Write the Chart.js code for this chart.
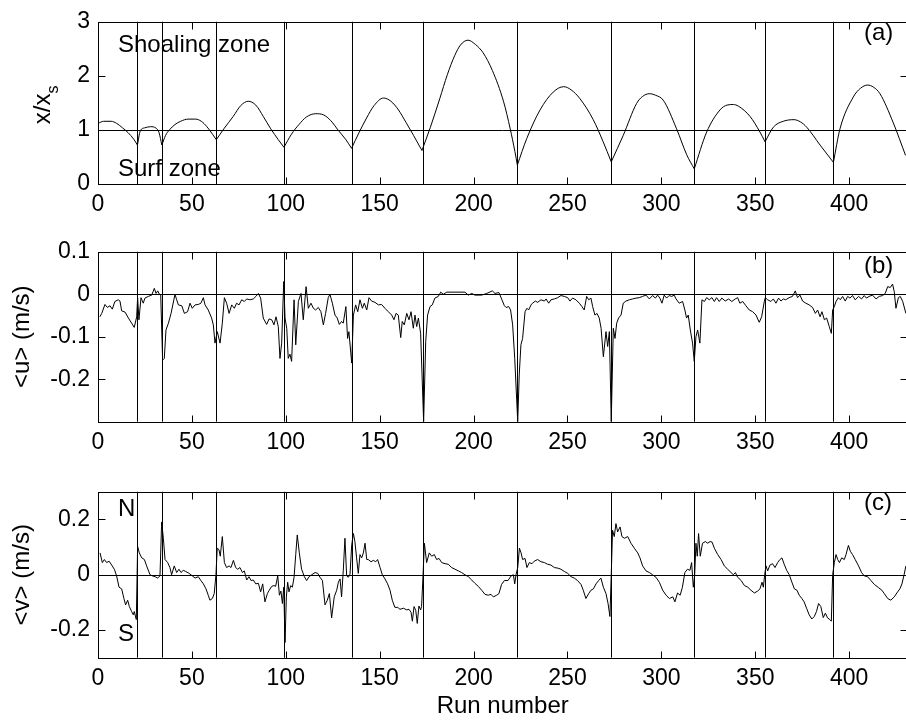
<!DOCTYPE html>
<html>
<head>
<meta charset="utf-8">
<script src="https://cdn.jsdelivr.net/npm/chart.js@4.4.0/dist/chart.umd.min.js"></script>
<style>
  html, body { margin: 0; padding: 0; background: #fff; overflow: hidden; }
  #wrap { position: relative; width: 906px; height: 726px; overflow: hidden; }
  canvas { position: absolute; left: 0; }
</style>
</head>
<body>
<div id="wrap">
  <canvas id="panelA" width="920" height="230" style="top:0px"></canvas>
  <canvas id="panelB" width="920" height="240" style="top:230px"></canvas>
  <canvas id="panelC" width="920" height="256" style="top:470px"></canvas>
</div>
<script>
// Tick labels
const runTicks = [0, 50, 100, 150, 200, 250, 300, 350, 400];
const xsTicks = [0, 1, 2, 3];
const uTicks = [-0.2, -0.1, 0, 0.1];
const vTicks = [-0.2, 0, 0.2];

// Run numbers where the tide segments change
const boundaries = [21, 34, 63, 99, 135.5, 173, 223.3, 273.3, 317.5, 355.2, 391.6];

// (a) normalised position x/x_s
const xsRuns = [0, 3, 7, 10, 13, 16, 19, 21,
  22.5, 25, 28, 31, 32.5, 34,
  36, 38, 41, 44, 48, 52, 55, 58, 61, 63,
  67, 72, 76, 80, 84, 88, 92, 96, 99,
  103, 107, 111, 116, 120, 124, 128, 132, 135,
  139, 143, 147, 152, 156, 160, 164, 168, 172.5,
  177, 182, 186, 190, 193, 197, 201, 205, 210, 216, 219.5, 222, 223.3,
  228.3, 235.4, 242.4, 248, 252, 256.6, 263.7, 269, 273.3,
  279.7, 286.8, 290, 293.6, 297, 301, 308.1, 313.5, 317.5,
  324.1, 331.2, 335, 338.3, 341, 347.2, 352.5, 355.2,
  359.6, 364.9, 370.6, 374, 377.4, 384.5, 391.6,
  395.1, 402.2, 406, 409.8, 413, 416.4, 423.5, 430];
const xsVals = [1.12, 1.16, 1.16, 1.12, 1.04, 0.95, 0.83, 0.72,
  0.98, 1.04, 1.06, 1.03, 0.95, 0.72,
  0.9, 1.0, 1.1, 1.16, 1.2, 1.2, 1.16, 1.06, 0.92, 0.82,
  1.02, 1.25, 1.45, 1.53, 1.46, 1.25, 1.02, 0.82, 0.68,
  0.92, 1.1, 1.24, 1.3, 1.28, 1.17, 0.99, 0.82, 0.66,
  0.95, 1.22, 1.45, 1.59, 1.53, 1.37, 1.14, 0.9, 0.62,
  1.05, 1.58, 2.02, 2.38, 2.57, 2.66, 2.58, 2.43, 2.1, 1.52, 1.02, 0.6, 0.35,
  0.84, 1.37, 1.7, 1.8, 1.74, 1.58, 1.19, 0.78, 0.41,
  0.9, 1.49, 1.62, 1.67, 1.64, 1.55, 1.02, 0.54, 0.28,
  0.96, 1.37, 1.46, 1.47, 1.44, 1.25, 0.96, 0.78,
  1.05, 1.16, 1.19, 1.15, 1.05, 0.72, 0.4,
  1.02, 1.61, 1.77, 1.83, 1.79, 1.67, 1.13, 0.53];

// (b) mean cross-shore current <u> (m/s)
const uRuns = [1, 2, 3.7, 5, 6.4, 7.6, 9, 10.8, 11.7, 12.6, 14.4, 16.2, 17.9, 19.3, 20.6,
  21.1, 21.8, 22.9, 24.1, 25, 26.8, 28.6, 30, 30.9, 31.8, 32.7, 33.4,
  34.4, 35.3, 36.2, 37.5, 38.9, 41, 41.9, 42.8, 44.6, 46, 47.7, 49, 50.2, 51.7, 53.4, 54.8,
  56.1, 57, 58.7, 60.5, 61.4, 62.3, 63.5, 65, 66.2, 67.3, 68.5, 69.8, 71.2, 72.6, 73.8,
  75.1, 76.5, 77.9, 79.2, 80.9, 82.7, 84.1, 85.4, 86.6, 88, 89.8, 91.1, 92.5, 93.7, 94.8,
  96, 96.9, 97.8, 98.9, 99.6, 100.5, 101.3, 102.2, 103.1, 104.4, 105.3, 106.7, 108.1,
  109.3, 110.8, 112, 113.4, 114.7, 115.9, 117.3, 118.7, 120, 121.2, 122.6, 123.5, 124.8,
  126.2, 127.4, 128.5, 129.7, 130.6, 132, 132.9, 133.6, 135.1, 136, 137.2, 138.3, 139.5,
  140.8, 141.8, 143.1, 144.3, 145.7, 147.5, 149.3, 151, 152.8, 154.6, 156.4, 157.6, 158.7,
  159.9, 161.2, 162, 163.1, 164.4, 165.6, 166.7, 167.9, 168.8, 169.7, 170.6, 171.8,
  173.4, 174.5, 175.5, 176.8, 178, 179.4, 181.2, 182.5, 183.9, 185.7, 190.1, 195.4,
  197.2, 199, 200.7, 204.3, 207, 210, 211.4, 213.5, 215.1, 216.4, 217.3, 218.7, 219.7,
  220.8, 221.9, 223.5, 224.3, 225.2, 226.1, 227.4, 228.4, 229.3, 230.6, 231.4, 232.9,
  234.1, 235.9, 237.7, 238.6, 240, 241.2, 243, 244.8, 246.5, 248.3, 250.1, 251.3, 252.7,
  254.5, 256.3, 257.7, 258.9, 260.2, 261.3, 262.5, 263.4, 264.6, 265.7, 266.9, 267.9,
  269.1, 270.5, 271.4, 272.3, 273.3, 274.4, 275.3, 276.2, 277.2, 278.5, 279.7, 281.1,
  282.9, 284.7, 286.5, 288.2, 290, 291.8, 293.6, 295.3, 296.8, 298, 299.2, 300.3, 301.5,
  302.8, 304.1, 305.5, 306.8, 307.8, 309.5, 311.3, 312.5, 313.4, 314.3, 315.4, 316.6,
  317.5, 318.4, 319.3, 320.5, 321.6, 322.9, 324.1, 325.5, 326.9, 328.2, 329.4, 330.8,
  332.2, 334, 335.8, 337.5, 339.3, 340.6, 341.8, 343.3, 345, 346.8, 348.6, 350.4, 352.1,
  353.4, 354.8, 355.3, 356.6, 358.3, 359.6, 361, 362.4, 363.7, 364.9, 366.2, 368, 369.8,
  371.3, 372.5, 373.8, 375.2, 376.9, 378.7, 380.5, 382, 383.2, 384.5, 385.5, 386.8, 388,
  389.4, 390.5, 391.2, 392.1, 393, 394.2, 395.3, 396.5, 397.9, 399.2, 400.4, 401.8,
  403.2, 405, 406.6, 408, 409.2, 410.6, 412.4, 414.3, 416, 417.8, 419.2, 420.5, 421.9,
  423.1, 424, 424.9, 426.2, 427.2, 428.5, 430.2];
const uVals = [-0.053, -0.045, -0.024, -0.031, -0.027, -0.035, -0.017, -0.013, -0.016, -0.039, -0.042, -0.056, -0.068, -0.078, -0.053,
  -0.008, -0.06, -0.008, -0.021, -0.009, -0.005, -0.002, 0.014, 0.002, 0.008, 0, -0.002,
  -0.155, -0.151, -0.084, -0.068, -0.045, 0, -0.013, -0.025, -0.027, -0.045, -0.041, -0.021, -0.033, -0.025, -0.024, -0.021,
  -0.008, -0.025, -0.037, -0.056, -0.072, -0.115, -0.088, -0.115, -0.068, -0.008, -0.021, -0.045, -0.025, -0.033, -0.021,
  -0.025, -0.013, -0.017, -0.011, -0.013, -0.011, -0.005, 0.002, -0.009, -0.056, -0.071, -0.058, -0.06, -0.072, -0.053,
  -0.076, -0.151, -0.115, 0.03, -0.056, -0.08, -0.151, -0.141, -0.158, -0.013, -0.119, -0.017, 0.002,
  -0.06, 0.018, -0.033, -0.021, -0.033, -0.037, -0.031, -0.041, -0.072, -0.045, -0.008, 0, -0.021,
  -0.049, -0.056, -0.071, -0.064, -0.068, -0.029, -0.104, -0.088, -0.162, -0.049, -0.025, -0.041, -0.013,
  -0.033, -0.021, -0.037, -0.008, -0.016, -0.019, -0.025, -0.024, -0.033, -0.041, -0.049, -0.06, -0.045,
  -0.049, -0.102, -0.064, -0.072, -0.045, -0.06, -0.041, -0.08, -0.049, -0.076, -0.056, -0.092,
  -0.3, -0.111, -0.049, -0.029, -0.025, -0.009, -0.005, 0.005, 0, 0.005, 0.005, 0.005,
  -0.002, 0.002, -0.002, -0.002, 0.002, 0.008, 0.002, 0.004, -0.013, -0.027, -0.031, -0.029, -0.037,
  -0.072, -0.151, -0.3, -0.19, -0.119, -0.104, -0.041, -0.033, -0.037, -0.025, -0.021, -0.016,
  -0.019, -0.013, -0.016, -0.011, -0.021, -0.013, -0.011, -0.008, -0.003, -0.005, -0.008, -0.016, -0.009,
  -0.013, -0.021, -0.029, -0.037, -0.005, -0.013, -0.009, -0.029, -0.049, -0.045, -0.056, -0.08,
  -0.147, -0.088, -0.123, -0.088, -0.3, -0.08, -0.104, -0.068, -0.056, -0.049, -0.021, -0.016,
  -0.013, -0.011, -0.009, -0.008, -0.005, -0.002, -0.011, -0.003, -0.009, -0.002, -0.009, -0.021, -0.002,
  -0.009, -0.003, -0.005, -0.002, -0.011, -0.021, -0.017, -0.037, -0.056, -0.049, -0.084, -0.115,
  -0.158, -0.1, -0.084, -0.115, -0.013, -0.017, -0.008, -0.013, -0.008, -0.017, -0.008, -0.017,
  -0.009, -0.016, -0.011, -0.017, -0.011, -0.008, -0.021, -0.017, -0.027, -0.037, -0.041, -0.049, -0.066,
  -0.053, -0.017, -0.008, -0.013, -0.017, -0.011, -0.021, -0.009, -0.016, -0.011, -0.013, -0.008, -0.005,
  0.008, -0.008, -0.002, -0.016, -0.021, -0.025, -0.031, -0.045, -0.037, -0.053, -0.041, -0.06, -0.056,
  -0.076, -0.092, -0.037, -0.029, -0.017, -0.008, -0.013, -0.005, -0.016, -0.005, -0.009, -0.003,
  -0.013, -0.005, -0.011, -0.003, -0.009, -0.005, -0.002, -0.011, -0.005, -0.003, 0.002, 0.018, 0.016,
  0.024, 0.006, -0.033, -0.008, -0.005, -0.017, -0.045];

// (c) mean alongshore current <v> (m/s)
const vRuns = [1.1, 2.3, 3.4, 4.6, 5.9, 7.3, 8.7, 9.9, 11.2, 12.6, 13.8, 14.7, 15.8, 16.7, 17.9, 18.8,
  19.3, 20.4, 21.1, 22, 23.3, 24.7, 25.9, 27.7, 28.9, 30.4, 31.8, 33, 33.9, 34.8, 35.7,
  37.1, 38.3, 39.2, 40.6, 41.9, 43.1, 44.2, 45.4, 46.7, 48.5, 50.2, 51.7, 53.4, 54.8,
  56.1, 57.5, 58.7, 59.6, 60.9, 61.9, 62.8, 63.5, 64.4, 65.1, 66.2, 67.3, 68.5, 69.8,
  70.8, 72.1, 73.3, 74.4, 75.6, 76.9, 77.9, 79.2, 80.4, 81.5, 82.7, 84, 85.4, 86.6, 87.7,
  88.9, 90.2, 91.2, 92.5, 93.7, 94.6, 95.7, 96.6, 97.4, 98.2, 98.9, 99.6, 100.3, 101,
  101.7, 102.6, 103.5, 104.4, 105.3, 106.1, 107.2, 108.4, 109.9, 111.1, 112.4, 113.8,
  115.6, 117, 118.2, 119.5, 120.9, 122.1, 123.2, 124.4, 125.8, 127.1, 128, 128.9, 129.7,
  130.6, 131.5, 132.4, 133.3, 134.2, 135.1, 136, 136.8, 137.7, 138.6, 139.5, 140.4, 141.3,
  142.2, 143.1, 143.9, 145.4, 146.6, 147.9, 148.9, 150.2, 151.4, 152.8, 154.2, 155.5,
  156.7, 158.1, 159.6, 160.8, 162.6, 164.4, 165.6, 166.7, 167.4, 168.3, 169.2, 170, 170.9,
  171.8, 172.3, 173.1, 173.8, 175, 176.4, 177.7, 179.1, 180.3, 181.6, 183, 184.8, 186.5,
  188.3, 190.1, 191.9, 193.6, 195.4, 197.2, 199, 200.7, 202.5, 204.3, 206.1, 207.8, 209.3,
  210.5, 212.3, 213.5, 214.9, 216.4, 218.3, 220, 221.2, 221.9, 222.6, 223.5, 224.4, 225.3,
  226.1, 227.4, 228.4, 229.7, 231.1, 232.3, 234.1, 235.9, 237.7, 239.4, 241.2, 243, 244.8,
  246.5, 248.3, 250.1, 251.9, 253.6, 255.4, 257.2, 258.4, 259.8, 261.3, 262.5, 263.8, 265.2,
  266.6, 267.8, 269.1, 270.5, 271.6, 272.6, 273.3, 274, 274.9, 275.8, 276.7, 278, 279,
  280.3, 282.1, 283.8, 285.6, 287.4, 288.6, 290, 291.8, 293.6, 295.3, 297.1, 298.9, 300.7,
  302.5, 304.3, 306.1, 307.2, 308.6, 310, 311.2, 312.5, 313.9, 315.2, 316.1, 317, 317.7,
  318.4, 319.1, 319.8, 320.7, 321.9, 323.4, 324.7, 325.9, 327, 328.2, 330, 331.8, 333.5,
  335.3, 337.1, 338.3, 339.4, 340.6, 342.5, 344.2, 346, 347.7, 349.5, 351.3, 352.5, 353.6,
  354.3, 355, 355.7, 356.6, 357.8, 359.2, 360.5, 361.9, 363.1, 364.2, 365.4, 366.7, 368.1,
  369.5, 370.8, 372.2, 373.4, 374.8, 376, 377.3, 378.7, 380.1, 381.4, 382.6, 383.7, 384.9,
  386.2, 387.3, 388.5, 389.7, 390.5, 391.2, 392.1, 393, 393.9, 394.8, 396, 397.4, 398.3,
  399.6, 400.6, 401.8, 403.2, 405, 406.6, 408, 409.8, 411.6, 413.4, 415.7, 417.4, 418.7,
  420.5, 422.2, 424, 425.8, 427, 428.1, 429.3, 430.2];
const vVals = [0.079, 0.044, 0.055, 0.044, 0.049, 0.035, 0.02, -0.004, -0.045, -0.051, -0.086, -0.109, -0.092, -0.115, -0.133, -0.145,
  -0.133, -0.162, 0.102, 0.079, 0.061, 0.055, 0.032, 0, -0.004, -0.007, -0.012, -0.004, 0.191, 0.132, 0.055,
  0.044, 0.026, 0, 0.032, 0.008, 0.02, 0.008, 0.016, 0.012, 0.005, -0.004, -0.012, -0.007, -0.021,
  -0.033, -0.051, -0.074, -0.092, -0.086, -0.068, 0, 0.096, 0.091, 0.067, 0.138, 0.044, 0.026, 0.032,
  0.026, 0.052, 0.026, 0.02, 0.026, 0.008, 0.014, -0.019, -0.007, -0.021, -0.019, -0.033, -0.031, -0.062, -0.033,
  -0.098, -0.068, -0.056, -0.042, -0.039, -0.042, -0.004, -0.074, -0.059, -0.104, -0.045, -0.245, -0.08, -0.027,
  -0.062, -0.039, -0.045, -0.009, 0.073, 0.144, 0.079, 0.02, -0.007, -0.021, -0.007, 0,
  0.008, 0.005, -0.009, -0.021, -0.109, -0.092, -0.068, -0.156, -0.08, -0.056, -0.027, -0.015, -0.08,
  0.014, 0.132, -0.004, -0.009, 0.002, 0.108, 0.149, 0.12, 0.061, 0.005, 0.073, 0.061, 0.079,
  0.114, 0.055, 0.055, 0.047, 0.052, 0.047, 0.055, 0.026, 0, -0.015, -0.033, -0.056,
  -0.092, -0.118, -0.118, -0.125, -0.121, -0.127, -0.125, -0.136, -0.168, -0.115, -0.129, -0.176, -0.113,
  -0.127, -0.115, 0, 0.114, 0.044, 0.079, 0.067, 0.073, 0.055, 0.059, 0.044, 0.04, 0.038,
  0.026, 0.02, 0.014, 0.008, 0, -0.007, -0.019, -0.031, -0.042, -0.056, -0.071, -0.074, -0.071,
  -0.08, -0.074, -0.068, -0.035, -0.021, -0.021, -0.004, 0, -0.033, 0, 0.026, 0.096, 0.079,
  0.055, 0.059, 0.026, 0.044, 0.04, 0.049, 0.055, 0.047, 0.044, 0.038, 0.035, 0.026, 0.024,
  0.02, 0.012, 0.005, -0.007, -0.012, -0.021, -0.035, -0.056, -0.086, -0.068, -0.056, -0.051, -0.033,
  -0.021, -0.012, -0.045, -0.068, -0.104, -0.151, 0, 0.161, 0.138, 0.185, 0.155, 0.173, 0.138,
  0.132, 0.138, 0.114, 0.096, 0.079, 0.061, 0.032, 0.014, 0.008, 0, -0.009, -0.027, -0.056,
  -0.074, -0.086, -0.08, -0.098, -0.066, -0.074, -0.045, 0.008, 0.02, 0.016, 0.044, -0.045, -0.004,
  0.114, 0.067, 0.149, 0.067, 0.114, 0.12, 0.114, 0.12, 0.118, 0.096, 0.073, 0.055, 0.032,
  0.02, 0.008, 0, 0.008, -0.009, -0.021, -0.039, -0.045, -0.056, -0.066, -0.059, -0.051, -0.027,
  -0.045, 0, 0.032, 0.014, 0.035, 0.04, 0.026, 0.044, 0.055, 0.061, 0.038, 0.016, 0,
  -0.027, -0.051, -0.056, -0.074, -0.086, -0.098, -0.121, -0.145, -0.16, -0.151, -0.133, -0.104, -0.115,
  -0.155, -0.139, -0.156, -0.162, -0.168, 0, 0.044, 0.073, 0.055, 0.044, 0.061, 0.055, 0.073,
  0.106, 0.085, 0.073, 0.055, 0.032, 0.008, -0.004, -0.007, -0.021, -0.035, -0.047, -0.056, -0.068,
  -0.086, -0.092, -0.08, -0.062, -0.051, -0.033, 0.002, 0.032];

const FONT = "'Liberation Sans', Arial, Helvetica, sans-serif";
Chart.defaults.font.family = FONT;
Chart.defaults.color = '#000';

function toPoints(runs, vals) {
  return runs.map((r, i) => ({ x: r, y: vals[i] }));
}

// split the x/x_s curve at its cusps (local minima) so each arch is smooth
function splitArches(runs, vals) {
  const arches = [];
  let cur = [];
  runs.forEach((r, i) => {
    cur.push({ x: r, y: vals[i] });
    const isMin = i > 0 && i < runs.length - 1 && vals[i] < vals[i - 1] && vals[i] < vals[i + 1];
    if (isMin) {
      arches.push(cur);
      cur = [{ x: r, y: vals[i] }];
    }
  });
  arches.push(cur);
  return arches;
}

// frame, inward ticks, reference lines and free text
const marksPlugin = {
  id: 'marks',
  beforeDatasetsDraw(chart, args, opts) {
    const { ctx, chartArea: a, scales: { x, y } } = chart;
    ctx.save();
    ctx.strokeStyle = '#000';
    ctx.lineWidth = 1;
    ctx.beginPath();
    boundaries.forEach(b => {
      const px = Math.round(x.getPixelForValue(b)) + 0.5;
      ctx.moveTo(px, a.top);
      ctx.lineTo(px, a.bottom);
    });
    const py = Math.round(y.getPixelForValue(opts.refLine)) + 0.5;
    ctx.moveTo(a.left, py);
    ctx.lineTo(a.right, py);
    ctx.stroke();
    ctx.restore();
  },
  afterDraw(chart, args, opts) {
    const { ctx, chartArea: a, scales: { x, y } } = chart;
    const L = Math.round(a.left) + 0.5, R = Math.round(a.right) + 0.5;
    const T = Math.round(a.top) + 0.5, B = Math.round(a.bottom) + 0.5;
    ctx.save();
    ctx.strokeStyle = '#000';
    ctx.lineWidth = 1;
    ctx.strokeRect(L, T, R - L, B - T);
    ctx.beginPath();
    runTicks.forEach(v => {
      const px = Math.round(x.getPixelForValue(v)) + 0.5;
      ctx.moveTo(px, B); ctx.lineTo(px, B - 7);
      ctx.moveTo(px, T); ctx.lineTo(px, T + 7);
    });
    opts.yTicks.forEach(v => {
      const py = Math.round(y.getPixelForValue(v)) + 0.5;
      ctx.moveTo(L, py); ctx.lineTo(L + 7, py);
      ctx.moveTo(R, py); ctx.lineTo(R - 7, py);
    });
    ctx.stroke();

    // y-axis title, rotated, with optional subscript part
    ctx.fillStyle = '#000';
    ctx.translate(opts.yTitleX, (a.top + a.bottom) / 2 + (opts.yTitleShift || 0));
    ctx.rotate(-Math.PI / 2);
    let total = 0;
    opts.yTitle.forEach(p => {
      ctx.font = p.size + 'px ' + FONT;
      p.w = ctx.measureText(p.text).width;
      total += p.w;
    });
    let pos = -total / 2;
    ctx.textAlign = 'left';
    ctx.textBaseline = 'alphabetic';
    opts.yTitle.forEach(p => {
      ctx.font = p.size + 'px ' + FONT;
      ctx.fillText(p.text, pos, p.drop || 0);
      pos += p.w;
    });
    ctx.setTransform(1, 0, 0, 1, 0, 0);

    ctx.font = '24px ' + FONT;
    opts.notes.forEach(n => ctx.fillText(n.text, n.x, n.y));
    ctx.restore();
  }
};

function makePanel(id, cfg) {
  return new Chart(document.getElementById(id), {
    type: 'line',
    data: { datasets: cfg.datasets },
    options: {
      responsive: false,
      animation: false,
      events: [],
      devicePixelRatio: 1,
      layout: { padding: { top: cfg.padTop, right: 12.6, left: 0, bottom: 0 } },
      elements: { point: { radius: 0 } },
      plugins: {
        legend: { display: false },
        tooltip: { enabled: false },
        marks: {
          refLine: cfg.refLine,
          yTicks: cfg.yTicks,
          yTitle: cfg.yTitle,
          yTitleX: cfg.yTitleX,
          yTitleShift: cfg.yTitleShift,
          notes: cfg.notes
        }
      },
      scales: {
        x: {
          type: 'linear',
          min: 0,
          max: 431,
          grid: { display: false, drawTicks: false },
          border: { display: false },
          afterBuildTicks: s => { s.ticks = runTicks.map(v => ({ value: v })); },
          afterFit: s => { s.height = cfg.xHeight; },
          ticks: { font: { size: 23 }, padding: 7, maxRotation: 0, callback: v => String(v) },
          title: cfg.xTitle
            ? { display: true, text: cfg.xTitle, font: { size: 24 }, padding: { top: 0, bottom: 5.5 } }
            : { display: false }
        },
        y: {
          min: cfg.yMin,
          max: cfg.yMax,
          grid: { display: false, drawTicks: false },
          border: { display: false },
          afterBuildTicks: s => { s.ticks = cfg.yTicks.map(v => ({ value: v })); },
          afterFit: s => { s.width = 98; },
          ticks: { font: { size: 23 }, padding: 8, callback: v => String(v) }
        }
      }
    },
    plugins: [marksPlugin]
  });
}

const lineStyle = { borderColor: '#000', borderWidth: 1, fill: false, pointRadius: 0 };

makePanel('panelA', {
  datasets: splitArches(xsRuns, xsVals).map(arch => ({
    ...lineStyle, data: arch, cubicInterpolationMode: 'monotone'
  })),
  padTop: 15, xHeight: 46,
  yMin: 0, yMax: 3, yTicks: xsTicks, refLine: 1,
  yTitle: [{ text: 'x/x', size: 24 }, { text: 's', size: 16, drop: 8 }],
  yTitleX: 50, yTitleShift: 2,
  notes: [
    { text: 'Shoaling zone', x: 118, y: 51.5 },
    { text: 'Surf zone', x: 118, y: 175.5 },
    { text: '(a)', x: 864, y: 39.5 }
  ]
});

makePanel('panelB', {
  datasets: [{ ...lineStyle, data: toPoints(uRuns, uVals), tension: 0 }],
  padTop: 20.3, xHeight: 48.3,
  yMin: -0.3, yMax: 0.1, yTicks: uTicks, refLine: 0,
  yTitle: [{ text: '<u> (m/s)', size: 24 }],
  yTitleX: 28.5,
  notes: [{ text: '(b)', x: 864, y: 42.7 }]
});

makePanel('panelC', {
  datasets: [{ ...lineStyle, data: toPoints(vRuns, vVals), tension: 0 }],
  padTop: 17.3, xHeight: 68.3, xTitle: 'Run number',
  yMin: -0.3, yMax: 0.3, yTicks: vTicks, refLine: 0,
  yTitle: [{ text: '<v> (m/s)', size: 24 }],
  yTitleX: 28.5,
  notes: [
    { text: '(c)', x: 864, y: 40.4 },
    { text: 'N', x: 118, y: 46 },
    { text: 'S', x: 118, y: 171 }
  ]
});
</script>
</body>
</html>
